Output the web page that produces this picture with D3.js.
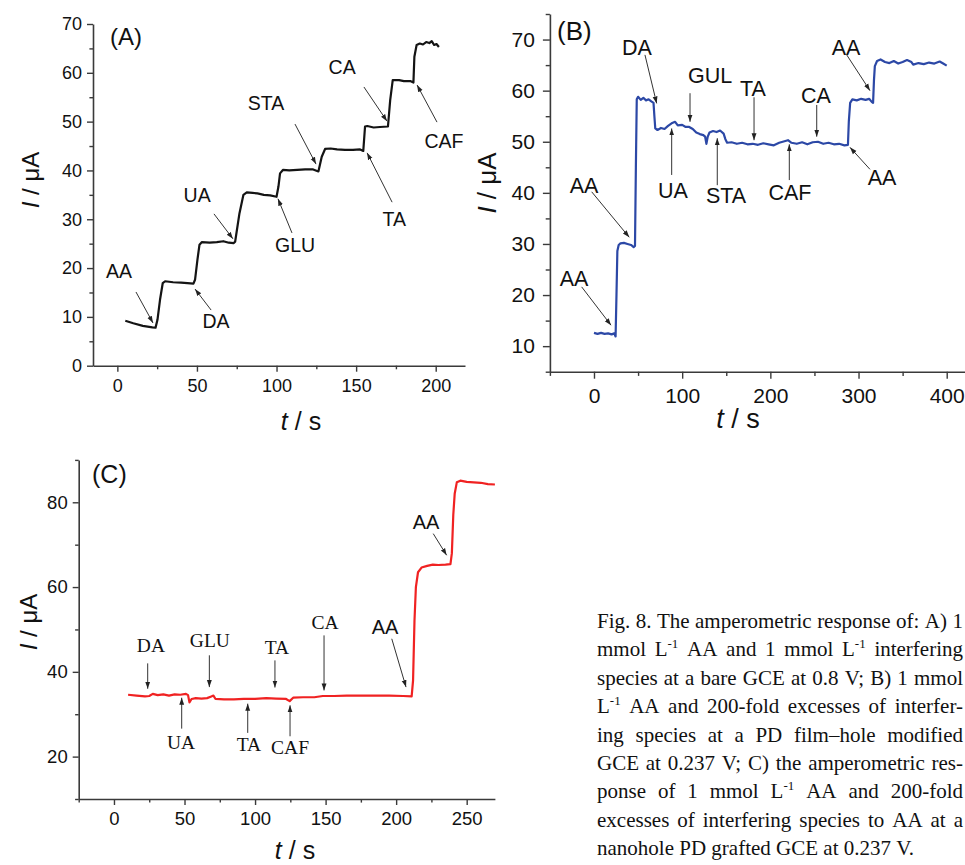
<!DOCTYPE html>
<html>
<head>
<meta charset="utf-8">
<title>Fig. 8 amperometric response</title>
<script src="https://cdnjs.cloudflare.com/ajax/libs/d3/7.8.5/d3.min.js"></script>
<style>
  body { margin: 0; background: #fff; }
  svg { display: block; }
</style>
</head>
<body>
<script>
const width = 965, height = 865;
const sans = "'Liberation Sans', Arial, sans-serif";
const serif = "'Liberation Serif', 'Times New Roman', serif";

// (A) bare GCE at 0.8 V
const timeA = [5, 10, 16, 22, 24, 25.2, 26.8, 28.5, 30, 35, 40, 44, 47.8, 48.8, 50.3, 51.6, 53, 58, 62.5, 66.6, 70, 73, 74,
  76.7, 79.2, 81.3, 85, 88, 92, 96, 100, 101.2, 102.2, 104, 108, 113, 118, 123, 126.3, 128.4, 130.5, 134, 138, 143, 148,
  152.5, 154.5, 155.6, 157, 161, 165, 170, 171.4, 173, 177, 180, 184, 186, 186.6, 188, 190, 192, 194, 196, 197.5, 199, 200.5, 202];
const currentA = [9.2, 8.7, 8.15, 7.85, 7.8, 9.4, 13.5, 16.9, 17.3, 17.1, 17.0, 16.9, 16.8, 17.6, 21.7, 24.8, 25.3, 25.2, 25.3, 25.5, 25.2, 25.1, 25.4,
  31.2, 35.0, 35.5, 35.4, 35.3, 35.0, 34.9, 34.6, 36.7, 39.4, 40.1, 40.0, 40.1, 40.2, 40.2, 39.8, 42.8, 44.4, 44.5, 44.3, 44.2, 44.2,
  44.3, 44.0, 49.0, 49.1, 48.8, 48.9, 49.0, 54.4, 58.5, 58.5, 58.3, 58.3, 58.0, 63.3, 65.7, 66.0, 65.8, 66.3, 66.1, 66.5, 65.7, 65.9, 65.3];

// (B) PD film-hole modified GCE at 0.237 V
const timeB = [0, 4, 8, 12, 16, 20, 23, 24.5, 25.5, 26.5, 28, 30, 34, 38, 42, 45, 46.5, 47.5, 48.5, 50, 53, 56, 59, 62, 65, 67.5,
  68.5, 69.5, 72, 76, 80, 84, 88, 92, 95, 100, 104, 108, 112, 116, 120, 124, 126, 127.5, 129, 131, 135, 139, 143, 147, 149, 151,
  156, 162, 168, 174, 180, 186, 192, 198, 204, 210, 216, 220, 224, 230, 236, 242, 248, 254, 260, 266, 272, 278, 284, 288, 289,
  290.5, 293, 298, 303, 308, 312, 315, 316.5, 317.5, 318.5, 321, 325, 330, 335, 340, 345, 350, 355, 360, 362, 368, 374, 380,
  386, 392, 396, 400];
const currentB = [12.6, 12.4, 12.6, 12.4, 12.5, 12.3, 12.5, 11.9, 20, 28.6, 29.8, 30.1, 30.2, 30.0, 29.8, 29.4, 29.6, 45, 58.3, 58.8, 58.2, 58.6, 58.1, 58.3, 57.9, 57.6,
  55, 52.6, 52.3, 52.7, 52.5, 53.1, 53.6, 53.9, 53.2, 53.3, 52.9, 52.9, 52.5, 51.8, 51.5, 51.3, 51.0, 49.6, 51.0, 51.8, 52.1, 51.9, 52.2, 51.6, 50.5, 49.8,
  49.9, 49.6, 49.8, 49.5, 49.6, 49.4, 49.7, 49.5, 49.3, 49.8, 50.1, 50.3, 49.8, 49.6, 49.9, 49.5, 49.9, 50.0, 49.6, 49.8, 49.5, 49.6, 49.3, 49.4, 54,
  57.6, 58.3, 58.1, 58.4, 58.2, 58.4, 57.8, 57.6, 62, 64.8, 65.8, 66.1, 65.6, 65.4, 65.8, 65.3, 65.6, 66.0, 65.6, 65.1, 65.4, 65.2, 65.5,
  65.3, 65.7, 65.3, 64.9];

// (C) nanohole PD grafted GCE at 0.237 V
const timeC = [10, 16, 22, 25, 27.5, 31, 35, 39, 43, 47, 51, 52.5, 53.5, 55, 58, 62, 66, 69, 70.5, 72, 78, 85, 92, 100, 108, 115, 122,
  124.5, 127, 134, 142, 148, 156, 165, 175, 185, 195, 205, 211, 212, 213, 214, 215.5, 218, 222, 226, 230, 235, 238.5, 239.5, 240.5,
  241.5, 243, 245.5, 250, 255, 260, 265, 270];
const currentC = [34.6, 34.4, 34.2, 34.3, 34.8, 34.5, 34.7, 34.4, 34.7, 34.6, 34.8, 34.5, 32.8, 33.6, 33.8, 33.7, 33.8, 34.2, 34.4, 33.6, 33.5, 33.5, 33.6, 33.6, 33.8, 33.7, 33.6,
  33.1, 33.9, 34.0, 34.0, 34.3, 34.3, 34.4, 34.4, 34.4, 34.4, 34.3, 34.2, 38, 52, 60, 63.5, 64.6, 65.0, 65.3, 65.2, 65.3, 65.4, 68, 77,
  82, 84.7, 85.1, 84.8, 84.7, 84.6, 84.3, 84.2];

// tick values
const xTicksA = [0, 50, 100, 150, 200], xMinorA = [25, 75, 125, 175];
const yTicksA = [0, 10, 20, 30, 40, 50, 60, 70], yMinorA = [5, 15, 25, 35, 45, 55, 65];
const xTicksB = [0, 100, 200, 300, 400], xMinorB = [-50, 50, 150, 250, 350, 450];
const yTicksB = [10, 20, 30, 40, 50, 60, 70], yMinorB = [5, 15, 25, 35, 45, 55, 65, 75];
const xTicksC = [0, 50, 100, 150, 200, 250], xMinorC = [-25, 25, 75, 125, 175, 225];
const yTicksC = [20, 40, 60, 80], yMinorC = [10, 30, 50, 70, 90];

// annotations: label, [label t, label I], [tail t, tail I], [tip t, tip I]
const notesA = [
  ["AA", [1.1, 19.4], [11.7, 15.1], [22.4, 8.75]],
  ["DA", [62, 9.1], [58.9, 11.4], [48.8, 15.7]],
  ["UA", [50.1, 35], [60.7, 31.1], [72.6, 26]],
  ["GLU", [111.7, 24.7], [109.7, 27.2], [100.9, 34.2]],
  ["STA", [93.4, 53.8], [111.6, 49.5], [124.8, 41.3]],
  ["TA", [173.9, 30], [172.6, 33.5], [156.9, 43.6]],
  ["CA", [141.2, 61.2], [154.9, 57.1], [169.4, 50.1]],
  ["CAF", [205.2, 46.1], [200.8, 49.9], [188.3, 57.5]]
];
const notesB = [
  ["DA", [48.8, 68.5], [57.8, 67], [71.1, 57.5]],
  ["GUL", [131.6, 63.1], [108.9, 59.5], [108.9, 53.9]],
  ["TA", [180.3, 60.5], [181.5, 58.7], [181.5, 50.3]],
  ["CA", [251.8, 59.1], [252.6, 57.2], [252.6, 51]],
  ["AA", [285.8, 68.5], [286.6, 67], [313, 60]],
  ["UA", [89.6, 40.5], [88.1, 43.5], [88.1, 52.6]],
  ["STA", [149.7, 39.6], [139.8, 41.5], [139.8, 50.7]],
  ["CAF", [222.3, 40.2], [221.5, 42.5], [221.5, 49.5]],
  ["AA", [326.6, 43.1], [313, 44.6], [290.3, 48.9]],
  ["AA", [-11.3, 41.5], [-2.6, 40.2], [40, 31.3]],
  ["AA", [-22.7, 23.3], [-14, 21.6], [19.3, 14.1]]
];
const notesC = [
  ["DA", [26.2, 46.3], [23.9, 42], [23.9, 36]],
  ["GLU", [68, 47.4], [67.6, 43.9], [67.6, 36.4]],
  ["TA", [115.5, 45.8], [114.1, 42.7], [114.1, 36.3]],
  ["CA", [149.6, 51.7], [148.9, 48.6], [148.9, 35.6]],
  ["AA", [192.1, 50.7], [196.9, 47.8], [207, 36.4]],
  ["AA", [221.2, 75.5], [226.3, 72.6], [235.8, 67.5]],
  ["UA", [47.5, 23.4], [48, 26.6], [48, 33.9]],
  ["TA", [95.7, 22.9], [94.8, 25.6], [94.8, 32.5]],
  ["CAF", [124.8, 22.2], [124.8, 24.8], [124.8, 32.1]]
];

const captionLines = [
  "Fig. 8. The amperometric response of: A) 1",
  "mmol L^{-1} AA and 1 mmol L^{-1} interfering",
  "species at a bare GCE at 0.8 V; B) 1 mmol",
  "L^{-1} AA and 200-fold excesses of interfer-",
  "ing species at a PD film\u2013hole modified",
  "GCE at 0.237 V; C) the amperometric res-",
  "ponse of 1 mmol L^{-1} AA and 200-fold",
  "excesses of interfering species to AA at a",
  "nanohole PD grafted GCE at 0.237 V."
];

const svg = d3.select("body").append("svg")
  .attr("width", width).attr("height", height);

svg.append("defs").append("marker")
  .attr("id", "arr").attr("viewBox", "0 0 10 10")
  .attr("refX", 10).attr("refY", 5)
  .attr("markerWidth", 7).attr("markerHeight", 7)
  .attr("markerUnits", "userSpaceOnUse").attr("orient", "auto")
  .append("path").attr("d", "M0,1.5 L10,5 L0,8.5 Z").attr("fill", "#222");

const panels = [
  { t: timeA, I: currentA, color: "#141414", name: "(A)", notes: notesA,
    xDomain: [-15.3, 218.4], xRange: [93, 465], yDomain: [0, 70], yRange: [365.7, 24],
    xTicks: xTicksA, xMinor: xMinorA, yTicks: yTicksA, yMinor: yMinorA,
    tickFont: 18, tick: 6, padX: 8, padY: 5, noteFont: 19, noteSerif: false,
    xTitle: [301, 430, 25], yTitle: [39, 180, 24], label: [110, 45, 24] },
  { t: timeB, I: currentB, color: "#2c48a6", name: "(B)", notes: notesB,
    xDomain: [-50, 450], xRange: [549.9, 990.8], yDomain: [5, 75], yRange: [371.7, 14],
    xTicks: xTicksB, xMinor: xMinorB, yTicks: yTicksB, yMinor: yMinorB,
    tickFont: 21, tick: 7, padX: 9, padY: 8, noteFont: 21, noteSerif: false,
    xTitle: [738, 428, 27], yTitle: [496, 183, 26], label: [557, 40, 26] },
  { t: timeC, I: currentC, color: "#f02222", name: "(C)", notes: notesC,
    xDomain: [-25, 270], xRange: [78.7, 494.9], yDomain: [10, 90], yRange: [799, 459.9],
    xTicks: xTicksC, xMinor: xMinorC, yTicks: yTicksC, yMinor: yMinorC,
    tickFont: 18.5, tick: 6, padX: 7, padY: 5, noteFont: 19.5, noteSerif: true,
    xTitle: [295, 859, 25], yTitle: [37, 622, 24], label: [92, 483, 25] }
];

function styleAxis(sel, p) {
  sel.attr("font-family", sans).attr("font-size", p.tickFont);
  sel.select(".domain").attr("stroke", "#3a3a3a").attr("stroke-width", 1.6);
  sel.selectAll(".tick line").attr("stroke", "#3a3a3a").attr("stroke-width", 1.4);
  sel.selectAll(".tick text").attr("fill", "#111");
}

panels.forEach(p => {
  const x = d3.scaleLinear().domain(p.xDomain).range(p.xRange);
  const y = d3.scaleLinear().domain(p.yDomain).range(p.yRange);
  const g = svg.append("g");

  // axes
  const xa = g.append("g").attr("transform", `translate(0,${p.yRange[0]})`)
    .call(d3.axisBottom(x).tickValues(p.xTicks).tickSize(p.tick).tickSizeOuter(0).tickPadding(p.padX).tickFormat(d3.format("d")));
  styleAxis(xa, p);
  const xm = g.append("g").attr("transform", `translate(0,${p.yRange[0]})`)
    .call(d3.axisBottom(x).tickValues(p.xMinor).tickSize(p.tick * 0.6).tickSizeOuter(0).tickFormat(""));
  xm.select(".domain").remove();
  styleAxis(xm, p);

  const ya = g.append("g").attr("transform", `translate(${p.xRange[0]},0)`)
    .call(d3.axisLeft(y).tickValues(p.yTicks).tickSize(p.tick).tickSizeOuter(0).tickPadding(p.padY).tickFormat(d3.format("d")));
  styleAxis(ya, p);
  const ym = g.append("g").attr("transform", `translate(${p.xRange[0]},0)`)
    .call(d3.axisLeft(y).tickValues(p.yMinor).tickSize(p.tick * 0.6).tickSizeOuter(0).tickFormat(""));
  ym.select(".domain").remove();
  styleAxis(ym, p);

  // trace
  g.append("path").datum(d3.zip(p.t, p.I))
    .attr("fill", "none").attr("stroke", p.color).attr("stroke-width", 2.2)
    .attr("stroke-linejoin", "round")
    .attr("d", d3.line().x(d => x(d[0])).y(d => y(d[1])));

  // annotations
  p.notes.forEach(([lab, pos, tail, tip]) => {
    g.append("line")
      .attr("x1", x(tail[0])).attr("y1", y(tail[1]))
      .attr("x2", x(tip[0])).attr("y2", y(tip[1]))
      .attr("stroke", "#333").attr("stroke-width", 1)
      .attr("marker-end", "url(#arr)");
    const useSerif = p.noteSerif && lab !== "AA";
    g.append("text")
      .attr("x", x(pos[0])).attr("y", y(pos[1]))
      .attr("dy", "0.36em").attr("text-anchor", "middle")
      .attr("font-family", useSerif ? serif : sans)
      .attr("font-size", useSerif ? p.noteFont : p.noteFont + 0.5)
      .attr("fill", "#111").text(lab);
  });

  // titles
  const xt = g.append("text").attr("x", p.xTitle[0]).attr("y", p.xTitle[1])
    .attr("text-anchor", "middle").attr("font-family", sans).attr("font-size", p.xTitle[2]).attr("fill", "#111");
  xt.append("tspan").attr("font-style", "italic").text("t");
  xt.append("tspan").text(" / s");

  const yt = g.append("text")
    .attr("transform", `translate(${p.yTitle[0]},${p.yTitle[1]}) rotate(-90)`)
    .attr("text-anchor", "middle").attr("font-family", sans).attr("font-size", p.yTitle[2]).attr("fill", "#111");
  yt.append("tspan").attr("font-style", "italic").text("I");
  yt.append("tspan").text(" / \u03bcA");

  g.append("text").attr("x", p.label[0]).attr("y", p.label[1])
    .attr("font-family", sans).attr("font-size", p.label[2]).attr("fill", "#111").text(p.name);
});

// caption, justified word by word
const capLeft = 597, capWidth = 366, capTop = 628, capStep = 28.4;
const cap = svg.append("g").attr("font-family", serif).attr("font-size", 21).attr("fill", "#111");
captionLines.forEach((line, i) => {
  const words = line.split(" ");
  const nodes = words.map(w => {
    const t = cap.append("text").attr("y", capTop + i * capStep);
    let shift = 0;
    w.split(/(\^\{[^}]*\})/).forEach(part => {
      if (!part) return;
      const m = part.match(/^\^\{(.*)\}$/);
      if (m) {
        t.append("tspan").attr("font-size", 13).attr("dy", -8).text(m[1]);
        shift = 8;
      } else {
        t.append("tspan").attr("dy", shift).text(part);
        shift = 0;
      }
    });
    return t;
  });
  const widths = nodes.map(n => n.node().getComputedTextLength());
  const total = d3.sum(widths);
  const last = i === captionLines.length - 1;
  const gap = last ? 5.25 : Math.max(3, (capWidth - total) / (words.length - 1));
  let xPos = capLeft;
  nodes.forEach((n, k) => { n.attr("x", xPos); xPos += widths[k] + gap; });
});
</script>
</body>
</html>
